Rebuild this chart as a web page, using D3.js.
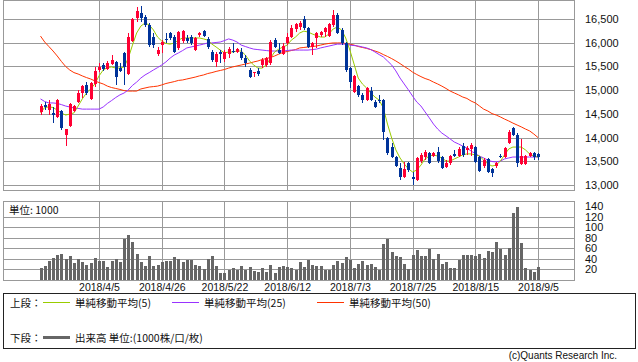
<!DOCTYPE html>
<html>
<head>
<meta charset="utf-8">
<script src="https://cdn.jsdelivr.net/npm/d3@7"></script>
<style>
  body { margin: 0; background: #fff; }
  text { font-family: "Liberation Sans", Arial, "Noto Sans CJK JP", sans-serif; fill: #111; }
  .jp { font-family: "Noto Sans CJK JP", sans-serif; }
</style>
</head>
<body>
<svg id="chart" width="638" height="362"></svg>
<script>
// 日足データ（2018/3/15 〜 2018/9/5）
const openP = [14540,14680,14580,14520,14430,14560,14050,14240,14560,14750,14940,15110,14810,15130,15420,15530,15450,15550,15590,15470,
  15780,15340,16040,16520,16630,16540,16370,16120,15760,15950,16080,16200,16120,15890,16040,16100,16120,15850,16160,16250,
  16080,15800,15590,15800,15660,15760,15830,15800,15800,15680,15420,15370,15400,15530,15530,15570,16060,15850,15760,15990,
  16120,16290,16330,16500,16310,15910,16100,16160,16230,16140,16370,16580,16270,15990,15470,14960,15090,14900,14790,14980,
  14750,14800,14790,13990,13800,13590,13360,13170,13460,13170,13110,13510,13590,13680,13610,13700,13590,13380,13460,13650,
  13610,13820,13740,13760,13800,13590,13400,13550,13340,13400,13610,13590,13890,14200,14050,13440,13440,13610,13680,13650];
const highP = [14710,14750,14790,14640,14810,14580,14190,14730,14690,15000,15110,15170,15170,15490,15570,15570,15610,15740,15610,15570,
  15800,16200,16520,16750,16770,16580,16420,16200,15910,16060,16200,16230,16160,16250,16270,16160,16160,16120,16230,16270,
  16120,15850,15800,15850,15850,15910,15990,15890,15890,15740,15470,15390,15470,15680,15700,16060,16100,15990,15990,16200,
  16370,16420,16460,16560,16330,16010,16230,16250,16330,16420,16690,16630,16310,16020,15490,15320,15110,14940,15070,15070,
  14790,14900,14810,14010,13890,13610,13460,13490,13490,13270,13590,13680,13740,13700,13700,13800,13610,13530,13630,13740,
  13800,13890,13820,13890,13820,13610,13570,13570,13360,13490,13650,13800,14160,14220,14100,13970,13630,13700,13700,13680];
const lowP = [14475,14580,14480,14310,14410,14160,13820,14220,14540,14730,14830,14900,14790,15070,15380,15400,15420,15530,15110,15380,
  15110,15320,16010,16440,16440,16330,15910,15890,15720,15780,15990,16060,15780,15850,15990,15990,15950,15830,16120,16120,
  15870,15590,15490,15570,15590,15680,15780,15780,15640,15490,15260,15280,15300,15470,15490,15530,15890,15760,15740,15950,
  16100,16230,16270,16270,15890,15740,15890,16120,16120,16120,16330,16180,15950,15380,15050,14940,14860,14730,14770,14770,
  14620,14730,13950,13630,13570,13380,13110,13150,13270,13000,13090,13460,13530,13450,13590,13460,13340,13360,13420,13590,
  13590,13590,13630,13610,13460,13270,13360,13250,13170,13360,13570,13570,13870,14030,13380,13420,13420,13590,13530,13530];
const closeP = [14665,14650,14710,14480,14790,14200,14180,14710,14660,14940,15090,14940,15150,15400,15490,15450,15570,15640,15280,15400,
  15490,16120,16500,16670,16520,16370,15950,15950,15850,16010,16060,16100,15800,16230,16250,16040,15990,16100,16200,16140,
  15910,15640,15760,15760,15800,15870,15800,15870,15680,15570,15280,15390,15340,15640,15680,16010,15910,15780,15930,16120,
  16310,16390,16420,16310,15910,15990,16200,16230,16310,16390,16580,16200,15990,15420,15170,15300,14900,14790,15050,14790,
  14640,14780,14120,13680,13590,13400,13170,13340,13320,13130,13570,13630,13700,13460,13680,13510,13360,13460,13610,13610,
  13760,13630,13780,13840,13490,13300,13530,13270,13250,13460,13590,13780,14120,14050,13460,13610,13610,13680,13590,13590];
// 出来高（単位: 1000）
const volume = [23,27,36,42,47,49,39,45,32,39,35,28,32,42,36,36,25,36,40,35,
  77,85,72,49,34,26,45,27,28,34,36,36,43,40,34,38,38,28,26,21,
  40,45,26,13,13,19,23,19,26,19,25,17,15,23,15,28,13,25,26,25,
  23,19,34,25,38,28,26,26,19,19,28,36,32,43,38,23,30,36,28,30,
  25,18,68,77,53,45,43,30,21,47,57,45,45,58,40,49,30,34,23,23,
  38,47,47,47,45,49,42,55,53,72,58,47,60,126,138,70,23,19,15,25];
// 単純移動平均
const ma5 = [14520,14635,14645,14635,14580,14520,14475,14495,14520,14665,14815,14940,15025,15130,15300,15425,15475,15490,15465,15465,
  15490,15675,15950,16205,16350,16415,16375,16270,16120,16035,15985,15970,15995,16055,16100,16100,16100,16100,16100,16080,
  16055,15970,15910,15845,15785,15805,15805,15825,15825,15740,15615,15530,15465,15465,15530,15675,15805,15865,15910,15950,
  16055,16120,16205,16245,16225,16185,16150,16120,16120,16185,16290,16330,16270,16100,15845,15550,15255,15130,15045,14940,
  14855,14790,14625,14285,13990,13740,13570,13445,13340,13275,13315,13420,13550,13610,13635,13610,13570,13505,13505,13550,
  13590,13635,13655,13655,13635,13610,13525,13445,13400,13420,13505,13635,13760,13800,13800,13800,13740,13655,13610,13590];
const ma25 = [14815,14760,14730,14730,14720,14695,14665,14645,14625,14615,14600,14600,14600,14600,14600,14645,14720,14780,14845,14900,
  14940,15005,15100,15170,15255,15320,15370,15425,15475,15530,15595,15675,15740,15785,15835,15890,15910,15930,15950,15970,
  15995,15995,16005,16015,16045,16080,16055,16015,15950,15920,15890,15865,15855,15845,15835,15825,15825,15825,15825,15835,
  15845,15845,15845,15845,15845,15855,15865,15890,15910,15930,15950,15970,15970,15970,15950,15940,15930,15910,15890,15855,
  15805,15750,15700,15615,15530,15405,15255,15130,15005,14875,14750,14665,14540,14415,14285,14180,14095,14035,13970,13905,
  13865,13820,13780,13715,13665,13610,13570,13525,13495,13485,13505,13550,13570,13590,13590,13590,13590,13590,13590,13590];
const ma50 = [16140,16015,15920,15825,15720,15605,15500,15425,15370,15340,15300,15265,15235,15195,15160,15130,15085,15055,15035,15015,
  14990,14980,14980,14980,15025,15045,15065,15075,15085,15110,15140,15160,15180,15205,15215,15235,15255,15275,15300,15320,
  15350,15370,15395,15415,15435,15465,15490,15510,15530,15550,15570,15595,15615,15645,15665,15690,15720,15760,15795,15815,
  15835,15855,15890,15900,15910,15920,15930,15950,15970,15985,15995,15995,15995,15985,15970,15950,15920,15900,15880,15855,
  15825,15795,15750,15710,15665,15615,15560,15500,15445,15380,15330,15285,15245,15215,15170,15130,15085,15035,14980,14940,
  14900,14855,14825,14770,14730,14665,14600,14560,14505,14475,14435,14390,14350,14305,14265,14225,14180,14140,14075,14000];
// 目盛り
const tickIdx = [14,29,44,59,74,89,104,119];
const tickLabels = ["2018/4/5","2018/4/26","2018/5/22","2018/6/12","2018/7/3","2018/7/25","2018/8/15","2018/9/5"];
const priceTicks = [13000,13500,14000,14500,15000,15500,16000,16500];
const volTicks = [20,40,60,80,100,120,140];

const UP = "#ff0033", DOWN = "#003399", GRID = "#999";
const svg = d3.select("#chart");
const L = 3, R = 574;

var x = d3.scaleLinear().domain([0, 119]).range([40.5, 538]);
var y = d3.scaleLinear().domain([13000, 16500]).range([185, 19]);
var yv = d3.scaleLinear().domain([0, 140]).range([280, 206]);
const px = v => Math.round(v) + 0.5;

// 枠と格子（上段）
var g1 = svg.append("g").attr("shape-rendering", "crispEdges");
g1.selectAll(".hg").data(priceTicks).enter().append("line")
  .attr("x1", L).attr("x2", R)
  .attr("y1", d => px(y(d))).attr("y2", d => px(y(d)))
  .attr("stroke", GRID);
g1.selectAll(".vg").data(tickIdx).enter().append("line")
  .attr("x1", d => px(x(d))).attr("x2", d => px(x(d)))
  .attr("y1", 0).attr("y2", 190)
  .attr("stroke", GRID);
g1.append("rect").attr("x", L + 0.5).attr("y", 0.5).attr("width", R - L).attr("height", 190)
  .attr("fill", "none").attr("stroke", GRID);

// 格子（下段）
var g2 = svg.append("g").attr("shape-rendering", "crispEdges");
g2.selectAll(".hg").data(volTicks.filter(v => v < 140)).enter().append("line")
  .attr("x1", L).attr("x2", R)
  .attr("y1", d => px(yv(d))).attr("y2", d => px(yv(d)))
  .attr("stroke", GRID);
g2.selectAll(".vg").data(tickIdx).enter().append("line")
  .attr("x1", d => px(x(d))).attr("x2", d => px(x(d)))
  .attr("y1", 201).attr("y2", 280)
  .attr("stroke", GRID);
g2.append("rect").attr("x", L + 0.5).attr("y", 201.5).attr("width", R - L).attr("height", 79)
  .attr("fill", "none").attr("stroke", GRID);

// 移動平均線
var idx = d3.range(openP.length);
[[ma50, "#ff3300"], [ma25, "#9933ff"], [ma5, "#99cc00"]].forEach(function (m) {
  svg.append("path")
    .datum(idx)
    .attr("fill", "none")
    .attr("stroke", m[1])
    .attr("stroke-width", 1)
    .attr("d", d3.line().x(i => x(i)).y(i => y(m[0][i])));
});

// ローソク足
var candle = svg.append("g").attr("shape-rendering", "crispEdges")
  .selectAll("g").data(idx).enter().append("g");
candle.append("line")
  .attr("x1", i => Math.round(x(i)) + 0.5).attr("x2", i => Math.round(x(i)) + 0.5)
  .attr("y1", i => y(highP[i])).attr("y2", i => y(lowP[i]))
  .attr("stroke", i => closeP[i] >= openP[i] ? UP : DOWN);
candle.append("rect")
  .attr("x", i => Math.round(x(i)) - 1)
  .attr("width", 3)
  .attr("y", i => y(Math.max(openP[i], closeP[i])))
  .attr("height", i => Math.max(1, Math.abs(y(openP[i]) - y(closeP[i]))))
  .attr("fill", i => closeP[i] >= openP[i] ? UP : DOWN);

// 出来高
svg.append("g").attr("shape-rendering", "crispEdges")
  .selectAll("rect").data(idx).enter().append("rect")
  .attr("x", i => Math.round(x(i)) - 1)
  .attr("width", 3)
  .attr("y", i => yv(volume[i]))
  .attr("height", i => 280 - yv(volume[i]))
  .attr("fill", "#666");

// 軸
var ay = svg.append("g").attr("transform", "translate(578,0)")
  .call(d3.axisRight(y).tickValues(priceTicks).tickFormat(d3.format(",")).tickSize(0).tickPadding(7));
var av = svg.append("g").attr("transform", "translate(578,0)")
  .call(d3.axisRight(yv).tickValues(volTicks).tickSize(0).tickPadding(7));
var ax = svg.append("g").attr("transform", "translate(0,281)")
  .call(d3.axisBottom(x).tickValues(tickIdx).tickFormat((d, k) => tickLabels[k]).tickSize(0).tickPadding(3));
[ay, av, ax].forEach(function (a) {
  a.select(".domain").remove();
  a.selectAll("text").attr("font-size", 11).attr("fill", "#111")
    .style("font-family", "'Liberation Sans', Arial, sans-serif");
});
ax.selectAll("text").attr("font-size", 10.5);

svg.append("text").attr("class", "jp").attr("x", 9).attr("y", 214)
  .attr("font-size", 10.5).text("単位: 1000");

// 凡例
var lg = svg.append("g");
lg.append("rect").attr("x", 3.5).attr("y", 293.5).attr("width", 632).attr("height", 55)
  .attr("fill", "#fff").attr("stroke", "#222").attr("shape-rendering", "crispEdges");
lg.append("text").attr("class", "jp").attr("x", 10).attr("y", 307).attr("font-size", 10.5).text("上段：");
var items = [["#99cc00", 43, "単純移動平均(5)"], ["#9933ff", 172, "単純移動平均(25)"], ["#ff3300", 317, "単純移動平均(50)"]];
items.forEach(function (it) {
  lg.append("line").attr("x1", it[1]).attr("x2", it[1] + 27).attr("y1", 302.5).attr("y2", 302.5)
    .attr("stroke", it[0]).attr("stroke-width", 1);
  lg.append("text").attr("class", "jp").attr("x", it[1] + 32).attr("y", 307).attr("font-size", 10.5).text(it[2]);
});
lg.append("text").attr("class", "jp").attr("x", 10).attr("y", 342).attr("font-size", 10.5).text("下段：");
lg.append("line").attr("x1", 43).attr("x2", 70).attr("y1", 337.5).attr("y2", 337.5)
  .attr("stroke", "#666").attr("stroke-width", 3);
lg.append("text").attr("class", "jp").attr("x", 75).attr("y", 342).attr("font-size", 10.5).text("出来高 単位:(1000株/口/枚)");

svg.append("text").attr("x", 617).attr("y", 359).attr("text-anchor", "end")
  .attr("font-size", 10).attr("fill", "#333").text("(c)Quants Research Inc.");
</script>
</body>
</html>
